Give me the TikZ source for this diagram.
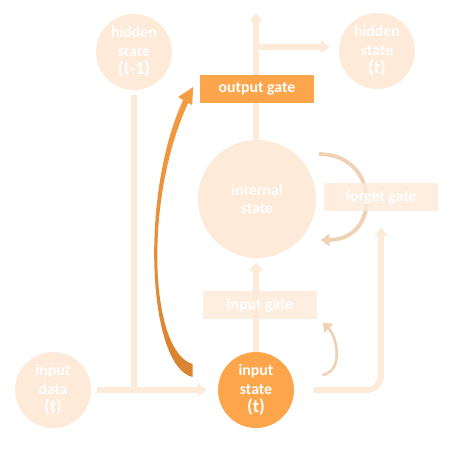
\documentclass[tikz,border=0pt]{standalone}
\usepackage{fontspec}
\setmainfont{Carlito}
\usetikzlibrary{arrows.meta,calc}

\definecolor{lstmPale}{HTML}{FDEAD8}
\definecolor{lstmOrange}{HTML}{FDA54B}
\definecolor{lstmDeep}{HTML}{D9822F}
\definecolor{lstmWarm}{HTML}{F49D42}
\definecolor{lstmTan}{HTML}{EFD2B4}

\pgfdeclarelayer{background}
\pgfsetlayers{background,main}

\newcommand{\tstep}[1]{{\fontsize{10.5}{12}\selectfont #1}}

\begin{document}
\begin{tikzpicture}[
  x=0.02cm, y=-0.02cm,
  >={Triangle[length=1.7mm, width=2.5mm]},
  flow/.style  = {draw=lstmPale, line width=3.4pt},
  state/.style = {circle, fill=lstmPale, text=white, minimum size=1.52cm,
                  inner sep=0pt, align=center, font=\fontsize{9}{10.6}\selectfont\bfseries},
  gate/.style  = {rectangle, fill=lstmPale, fill opacity=0.8, text opacity=1,
                  text=white, minimum width=2.3cm, minimum height=0.57cm,
                  inner sep=0pt, font=\fontsize{9}{11}\selectfont\bfseries},
  active/.style = {fill=lstmOrange, fill opacity=1},
  loopy/.style = {draw=lstmTan, line width=2.2pt},
]
\useasboundingbox (0,0) rectangle (450,450);

%% states
\node[state] (hprev) at (134,52) {hidden\\state\\\tstep{(t-1)}};
\node[state] (hnext) at (377,51) {hidden\\state\\\tstep{(t)}};
\node[state, minimum size=2.36cm] (cell) at (257,199) {internal\\state};
\node[state] (xdata) at (53,390) {input\\data\\\tstep{(t)}};
\node[state, active] (xstate) at (256,390) {input\\state\\\tstep{(t)}};

%% gates
\node[gate, active] (ogate) at (257,89) {output gate};
\node[gate] (fgate) at (381,197) {forget gate};
\node[gate] (igate) at (260,305) {input gate};

\coordinate (top)   at (256,13);
\coordinate (split) at (256,47);
\coordinate (merge) at (134,391);

%% plain flows and loops, behind everything
\begin{pgfonlayer}{background}
\draw[flow, ->] (cell.north -| top) -- (top);
\draw[flow, ->, shorten >=0.18cm] (split) -- (split -| hnext.west);
\draw[flow, shorten <=0.1cm] (hprev.south) -- (merge);
\draw[flow, ->, shorten <=0.12cm, shorten >=0.22cm] (xdata.east) -- (xstate.west);
\draw[flow, ->, shorten >=0.08cm] (xstate.north) -- (xstate.north |- cell.south);
\draw[flow, ->, rounded corners=0.3cm, shorten <=0.38cm, shorten >=0.32cm]
  (xstate.east) -| (fgate.south);
\draw[loopy, ->] ($(cell.45)+(20,-3)$) .. controls +(61,0) and +(61,0) ..
  ($(cell.-45)+(22,-1)$);
\draw[loopy, line width=1.5pt, ->] ($(xstate.east)+(28,-15)$) .. controls +(22,-4) and +(14,14) ..
  ($(igate.south east)+(5,3)$);
\end{pgfonlayer}

%% input state feeds the output gate
\shade[top color=lstmWarm, bottom color=lstmDeep]
  ($(xstate.west)+(-25,-13)$) .. controls +(-45,-10) and +(-44,95) ..
  ($(ogate.west)+(-16,11)$) -- ++(-5,-3) -- ++(15,-10) -- ++(-1,18) -- ++(-4,-2)
  .. controls +(-45,97) and +(-43,-12) .. ($(xstate.west)+(-25,-26)$) -- cycle;

\end{tikzpicture}
\end{document}
